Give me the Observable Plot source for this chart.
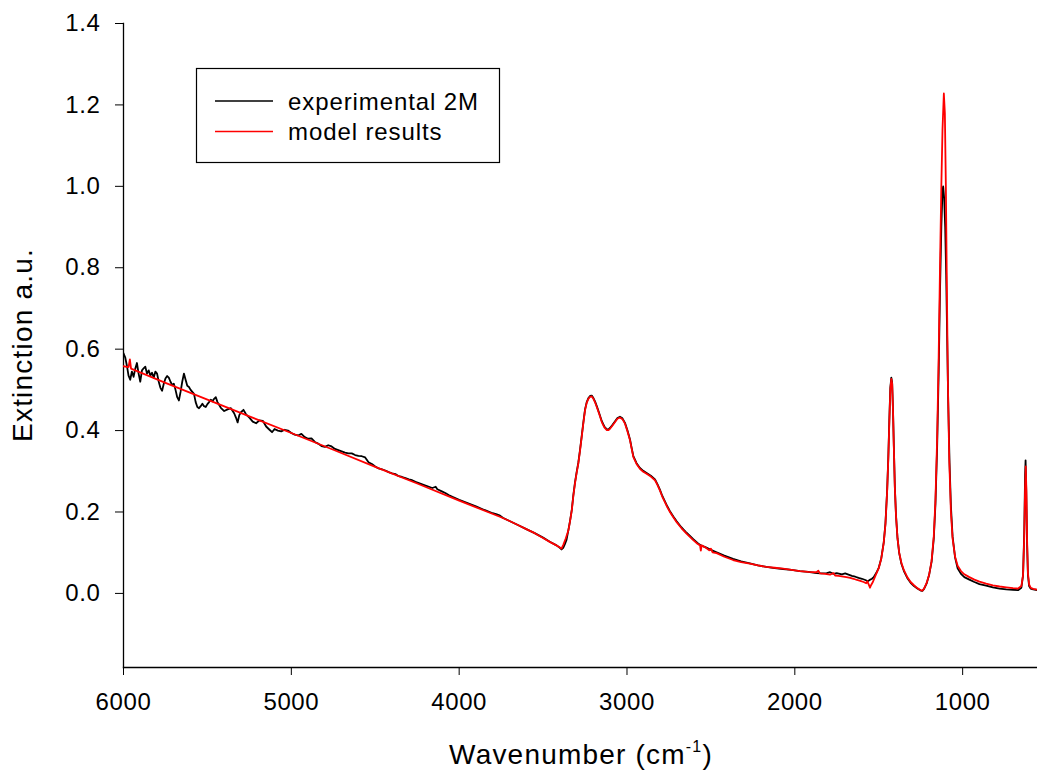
<!DOCTYPE html>
<html><head><meta charset="utf-8">
<script src="https://cdn.jsdelivr.net/npm/d3@7"></script>
<script src="https://cdn.jsdelivr.net/npm/@observablehq/plot@0.6"></script>
<style>body{margin:0;background:#fff} svg{display:block}</style>
</head><body><div id="chart"></div>
<script>
// Experimental spectrum (black)
const expWavenumber = [6000,5990,5980,5970,5960,5950,5940,5930,5920,5910,5900,5890,5880,5870,5860,5850,5840,5830,5820,5810,5800,5790,5780,5770,5760,5750,5740,5730,5720,5710,5700,5690,5680,5670,5660,5650,5640,5630,5620,5610,5600,5590,5580,5570,5560,5550,5540,5530,5520,5510,5500,5490,5480,5470,5460,5450,5440,5420,5400,5380,5360,5340,5330,5320,5310,5300,5285,5270,5250,5230,5210,5190,5170,5150,5130,5115,5100,5080,5060,5040,5020,5000,4980,4960,4940,4920,4900,4880,4860,4840,4820,4800,4780,4760,4740,4720,4700,4680,4660,4640,4620,4600,4580,4560,4540,4520,4500,4480,4460,4440,4420,4400,4380,4360,4340,4320,4300,4280,4260,4240,4220,4200,4180,4160,4140,4130,4100,4080,4060,4040,4000,3950,3900,3850,3800,3780,3760,3740,3700,3650,3600,3550,3500,3460,3420,3400,3390,3380,3370,3360,3349,3339,3329,3320,3310,3300,3290,3280,3270,3260,3250,3240,3230,3220,3210,3200,3190,3180,3165,3150,3135,3120,3110,3100,3085,3071,3057,3042,3027,3012,2997,2982,2972,2962,2943,2923,2903,2883,2858,2833,2818,2804,2790,2774,2760,2744,2724,2704,2675,2645,2605,2580,2560,2530,2500,2466,2420,2368,2320,2268,2220,2170,2120,2070,2020,1970,1920,1871,1840,1810,1790,1770,1750,1720,1700,1680,1660,1640,1620,1600,1580,1565,1550,1540,1530,1515,1500,1485,1470,1460,1450,1443,1437,1431,1425,1420,1415,1410,1404,1397,1388,1378,1365,1350,1330,1310,1290,1270,1250,1240,1230,1215,1200,1185,1172,1162,1152,1143,1135,1127,1120,1116,1110,1104,1098,1092,1086,1078,1070,1060,1045,1030,1010,990,960,930,900,860,820,780,740,700,670,650,640,633,628,625,621,616,611,604,595,580,565,554];
const expExtinction = [0.590,0.580,0.560,0.535,0.525,0.545,0.532,0.552,0.566,0.540,0.520,0.548,0.553,0.557,0.540,0.548,0.535,0.542,0.530,0.545,0.540,0.520,0.505,0.498,0.515,0.528,0.534,0.530,0.520,0.512,0.515,0.500,0.482,0.474,0.495,0.520,0.540,0.525,0.510,0.507,0.500,0.495,0.490,0.470,0.458,0.455,0.460,0.466,0.460,0.458,0.465,0.470,0.476,0.472,0.478,0.482,0.470,0.456,0.448,0.452,0.455,0.442,0.432,0.420,0.438,0.445,0.451,0.440,0.432,0.422,0.418,0.425,0.424,0.410,0.402,0.396,0.404,0.400,0.398,0.402,0.400,0.394,0.390,0.388,0.392,0.384,0.380,0.381,0.372,0.368,0.362,0.360,0.364,0.361,0.355,0.352,0.349,0.346,0.344,0.344,0.340,0.338,0.337,0.334,0.322,0.318,0.312,0.307,0.305,0.302,0.298,0.295,0.293,0.288,0.286,0.283,0.280,0.278,0.274,0.271,0.268,0.265,0.262,0.259,0.262,0.256,0.250,0.246,0.241,0.237,0.230,0.222,0.214,0.205,0.197,0.195,0.192,0.186,0.178,0.168,0.158,0.148,0.137,0.127,0.118,0.112,0.108,0.112,0.121,0.132,0.156,0.179,0.205,0.240,0.272,0.298,0.321,0.352,0.386,0.420,0.452,0.470,0.480,0.485,0.486,0.480,0.471,0.460,0.442,0.423,0.410,0.403,0.403,0.407,0.415,0.423,0.431,0.434,0.430,0.419,0.400,0.378,0.357,0.337,0.320,0.308,0.301,0.296,0.289,0.280,0.268,0.255,0.240,0.226,0.214,0.202,0.189,0.177,0.162,0.149,0.133,0.124,0.118,0.113,0.107,0.101,0.093,0.085,0.079,0.074,0.069,0.065,0.062,0.060,0.058,0.055,0.053,0.050,0.049,0.050,0.052,0.048,0.050,0.047,0.049,0.046,0.043,0.041,0.038,0.036,0.033,0.030,0.034,0.036,0.040,0.050,0.063,0.086,0.126,0.172,0.252,0.334,0.424,0.505,0.530,0.518,0.452,0.362,0.262,0.191,0.135,0.099,0.073,0.055,0.038,0.026,0.018,0.012,0.007,0.006,0.011,0.024,0.045,0.078,0.135,0.22,0.36,0.54,0.74,0.90,0.99,1.00,0.97,0.90,0.78,0.62,0.47,0.32,0.215,0.14,0.088,0.062,0.048,0.040,0.034,0.028,0.023,0.019,0.015,0.012,0.010,0.009,0.008,0.014,0.045,0.150,0.290,0.327,0.250,0.120,0.045,0.018,0.012,0.010,0.009,0.008];

// Model results (red)
const modelWavenumber = [6000,5970,5962,5955,5750,5500,5250,5000,4750,4500,4250,4000,3750,3700,3650,3600,3550,3500,3458,3420,3400,3390,3379,3365,3349,3339,3329,3320,3310,3300,3290,3280,3270,3260,3250,3240,3230,3220,3210,3200,3190,3180,3165,3150,3135,3120,3110,3100,3085,3071,3057,3042,3027,3012,2997,2982,2972,2962,2943,2923,2903,2883,2858,2833,2818,2804,2790,2774,2760,2744,2724,2704,2675,2645,2605,2580,2565,2560,2555,2530,2510,2500,2490,2466,2420,2368,2320,2268,2220,2170,2120,2070,2020,1970,1920,1871,1860,1850,1820,1790,1770,1760,1740,1720,1693,1670,1650,1630,1610,1590,1575,1568,1560,1552,1546,1535,1515,1500,1485,1470,1460,1450,1443,1437,1431,1425,1420,1415,1410,1404,1397,1388,1378,1365,1350,1330,1310,1290,1270,1250,1240,1230,1215,1200,1185,1172,1162,1152,1143,1135,1127,1120,1112,1106,1100,1094,1088,1080,1070,1060,1045,1030,1010,990,960,930,900,860,820,780,740,700,670,650,640,633,628,624,620,616,611,604,595,580,565,554];
const modelExtinction = [0.558,0.556,0.575,0.552,0.517,0.476,0.435,0.394,0.353,0.311,0.270,0.228,0.187,0.178,0.168,0.158,0.148,0.136,0.126,0.118,0.113,0.110,0.120,0.135,0.155,0.178,0.204,0.238,0.270,0.296,0.319,0.350,0.384,0.418,0.450,0.468,0.478,0.483,0.484,0.478,0.469,0.458,0.440,0.421,0.408,0.401,0.401,0.405,0.413,0.421,0.429,0.432,0.428,0.417,0.398,0.376,0.355,0.335,0.318,0.306,0.299,0.294,0.287,0.278,0.266,0.253,0.238,0.224,0.212,0.200,0.187,0.175,0.160,0.147,0.131,0.122,0.118,0.105,0.118,0.112,0.106,0.110,0.101,0.099,0.090,0.082,0.077,0.073,0.069,0.065,0.063,0.061,0.058,0.055,0.053,0.052,0.056,0.049,0.048,0.046,0.050,0.044,0.043,0.042,0.040,0.038,0.036,0.033,0.031,0.028,0.025,0.030,0.022,0.014,0.020,0.028,0.048,0.062,0.085,0.125,0.170,0.250,0.330,0.420,0.500,0.527,0.515,0.450,0.360,0.260,0.190,0.135,0.100,0.075,0.057,0.040,0.028,0.020,0.013,0.008,0.007,0.012,0.025,0.045,0.080,0.140,0.230,0.380,0.580,0.800,1.000,1.140,1.228,1.180,1.000,0.750,0.520,0.330,0.200,0.135,0.090,0.068,0.055,0.047,0.040,0.034,0.029,0.024,0.020,0.017,0.015,0.013,0.012,0.018,0.045,0.140,0.260,0.312,0.250,0.130,0.050,0.022,0.014,0.011,0.010,0.009];

const seriesNames = ["experimental 2M", "model results"];
const seriesColors = ["black", "red"];
const xTicks = [6000, 5000, 4000, 3000, 2000, 1000];
const yTicks = [0.0, 0.2, 0.4, 0.6, 0.8, 1.0, 1.2, 1.4];
const xTitle = "Wavenumber (cm";
const xTitleSup = "-1";
const yTitle = "Extinction a.u.";

const expData = expWavenumber.map((w, i) => ({w, e: expExtinction[i]}));
const modelData = modelWavenumber.map((w, i) => ({w, e: modelExtinction[i]}));

const chart = Plot.plot({
  width: 1037, height: 776,
  marginLeft: 123, marginRight: 0, marginTop: 23, marginBottom: 109,
  style: {fontFamily: "'Liberation Sans', Arial, sans-serif", fontSize: "24px", background: "white", color: "black", letterSpacing: "0.6px"},
  x: {domain: [6000, 554]},
  y: {domain: [-0.182, 1.4]},
  marks: [
    Plot.frame({anchor: "left", stroke: "black", strokeWidth: 1.3}),
    Plot.frame({anchor: "bottom", stroke: "black", strokeWidth: 1.3}),
    Plot.axisY({ticks: yTicks, tickSize: 8, tickPadding: 15, tickFormat: d3.format(".1f"), label: null}),
    Plot.axisX({ticks: xTicks, tickSize: 8, tickPadding: 17, tickFormat: d => String(d), label: null}),
    Plot.line(expData, {x: "w", y: "e", stroke: seriesColors[0], strokeWidth: 1.8, clip: true}),
    Plot.line(modelData, {x: "w", y: "e", stroke: seriesColors[1], strokeWidth: 1.8, clip: true})
  ]
});

const svg = d3.select(chart);
// Axis titles
const xt = svg.append("text")
  .attr("x", 581).attr("y", 764)
  .attr("text-anchor", "middle")
  .style("font-size", "28px").style("letter-spacing", "1.2px");
xt.append("tspan").text(xTitle);
xt.append("tspan").attr("dy", -12).style("font-size", "16px").text(xTitleSup);
xt.append("tspan").attr("dy", 12).text(")");

svg.append("text")
  .attr("transform", "translate(32,345) rotate(-90)")
  .attr("text-anchor", "middle")
  .style("font-size", "28px").style("letter-spacing", "1.2px")
  .text(yTitle);

// Legend
const lg = svg.append("g");
lg.append("rect").attr("x", 196.5).attr("y", 68.5).attr("width", 303).attr("height", 94)
  .attr("fill", "white").attr("stroke", "black").attr("stroke-width", 1.2);
seriesNames.forEach((name, i) => {
  const yy = 101 + i * 30.5;
  lg.append("line").attr("x1", 215).attr("x2", 273).attr("y1", yy).attr("y2", yy)
    .attr("stroke", seriesColors[i]).attr("stroke-width", 1.6);
  lg.append("text").attr("x", 288).attr("y", yy + 8.5)
    .attr("text-anchor", "start")
    .style("font-size", "24px").style("letter-spacing", "0.9px").text(name);
});

document.getElementById("chart").appendChild(chart);
</script>
</body></html>
